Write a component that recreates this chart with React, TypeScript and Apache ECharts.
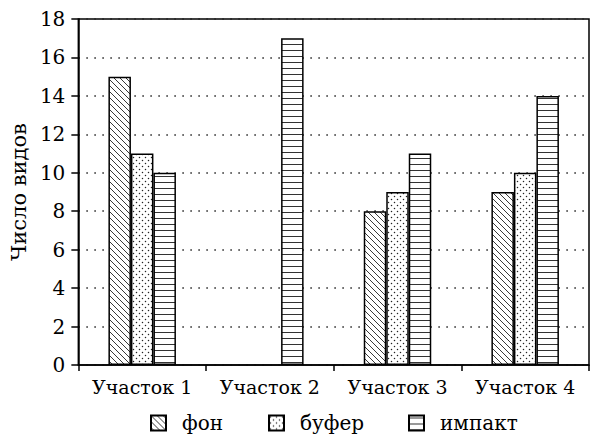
import React, { useEffect, useRef } from "react";
import * as echarts from "echarts";

const categories = ["Участок 1", "Участок 2", "Участок 3", "Участок 4"];
const seriesNames = ["фон", "буфер", "импакт"];
const fonValues: (number | null)[] = [15, null, 8, 9];
const buferValues: (number | null)[] = [11, null, 9, 10];
const impaktValues: (number | null)[] = [10, 17, 11, 14];
const yTicks = { min: 0, max: 18, interval: 2 };

const FONT = "DejaVu Serif";
const legendLefts = [145, 263, 403];

function makePattern(kind: "diag" | "dots" | "hlines") {
  const c = document.createElement("canvas");
  const s = 6;
  c.width = s;
  c.height = s;
  const ctx = c.getContext("2d")!;
  ctx.fillStyle = "#fff";
  ctx.fillRect(0, 0, s, s);
  ctx.strokeStyle = "#222";
  ctx.fillStyle = "#222";
  ctx.lineWidth = 0.9;
  if (kind === "diag") {
    ctx.beginPath();
    ctx.moveTo(-1, -1);
    ctx.lineTo(s + 1, s + 1);
    ctx.moveTo(-1, s - 1);
    ctx.lineTo(1, s + 1);
    ctx.moveTo(s - 1, -1);
    ctx.lineTo(s + 1, 1);
    ctx.stroke();
  } else if (kind === "dots") {
    ctx.beginPath();
    ctx.arc(1.5, 1.5, 0.75, 0, Math.PI * 2);
    ctx.arc(4.5, 4.5, 0.75, 0, Math.PI * 2);
    ctx.fill();
  } else {
    ctx.fillStyle = "#333";
    ctx.fillRect(0, 2, s, 1);
  }
  return { image: c, repeat: "repeat", imageWidth: s, imageHeight: s } as any;
}

export default function App() {
  const ref = useRef<HTMLDivElement>(null);
  useEffect(() => {
    if (!ref.current) return;
    const chart = echarts.init(ref.current, null, { renderer: "svg" });
    const patterns = [makePattern("diag"), makePattern("dots"), makePattern("hlines")];
    const datas = [fonValues, buferValues, impaktValues];
    chart.setOption({
      animation: false,
      backgroundColor: "#fff",
      grid: {
        left: 75,
        right: 1,
        top: 19,
        bottom: 76,
        show: true,
        borderColor: "#000",
        borderWidth: 1.5,
        backgroundColor: "transparent",
      },
      legend: seriesNames.map((name, i) => ({
        bottom: 3,
        left: legendLefts[i],
        icon: "rect",
        itemWidth: 15,
        itemHeight: 15,
        data: [name],
        textStyle: { fontFamily: FONT, fontSize: 20, color: "#000", padding: [0, 0, 0, 11] },
      })),
      xAxis: {
        type: "category",
        data: categories,
        axisLine: { lineStyle: { color: "#000", width: 1.5 } },
        axisTick: { show: true, interval: 0, length: 6, lineStyle: { color: "#000", width: 1.5 } },
        axisLabel: { interval: 0, hideOverlap: false, fontFamily: FONT, fontSize: 19, color: "#000", margin: 12 },
        splitLine: { show: false },
      },
      yAxis: {
        type: "value",
        min: yTicks.min,
        max: yTicks.max,
        interval: yTicks.interval,
        name: "Число видов",
        nameLocation: "middle",
        nameGap: 41,
        nameTextStyle: { fontFamily: FONT, fontSize: 21, color: "#000" },
        axisLine: { show: true, lineStyle: { color: "#000", width: 1.5 } },
        axisTick: { show: true, length: 7, lineStyle: { color: "#000", width: 1.5 } },
        axisLabel: { fontFamily: FONT, fontSize: 20, color: "#000", margin: 13 },
        splitLine: { show: true, lineStyle: { color: "#222", width: 1.5, type: [1.5, 6.5] } },
      },
      series: seriesNames.map((name, i) => ({
        name,
        type: "bar",
        data: datas[i],
        barWidth: 22.5,
        barGap: "0%",
        itemStyle: { color: patterns[i], borderColor: "#000", borderWidth: 1.5 },
        emphasis: { disabled: true },
      })),
    });
    return () => chart.dispose();
  }, []);
  return <div ref={ref} style={{ width: 590, height: 441, position: "absolute", left: 0, top: 0 }} />;
}
